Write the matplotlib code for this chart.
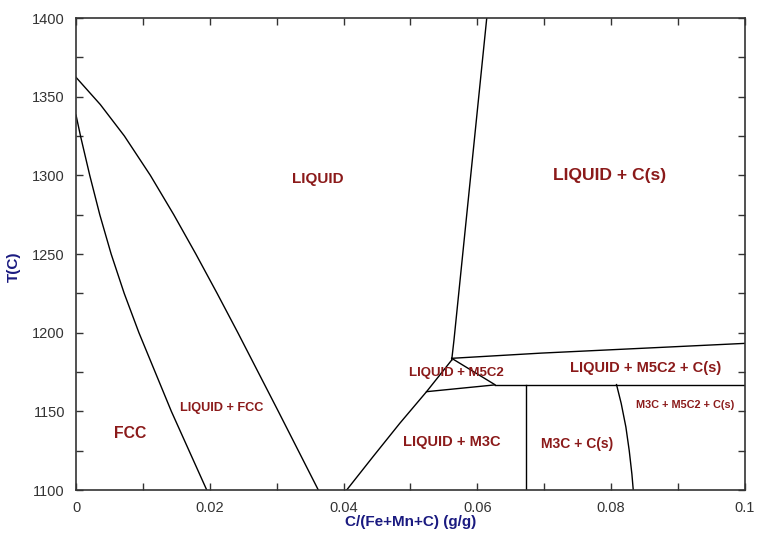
import numpy as np
import matplotlib
matplotlib.use("Agg")
import matplotlib.pyplot as plt
from matplotlib.ticker import MultipleLocator

plt.rcParams['font.family'] = ['Liberation Sans', 'DejaVu Sans']

# Phase boundaries (C mass fraction, T in C)
##########################################
liq_fcc_x = [0.0, 0.00363, 0.00723, 0.01111, 0.01461, 0.01791, 0.02109, 0.02419, 0.03024, 0.03622]
liq_fcc_t = [1362.3, 1345.0, 1325.0, 1300.0, 1275.0, 1250.0, 1225.0, 1200.0, 1150.0, 1100.0]

sol_fcc_x = [0.0, 0.00067, 0.00205, 0.00355, 0.00525, 0.0072, 0.0094, 0.01425, 0.01954]
sol_fcc_t = [1338.3, 1325.0, 1300.0, 1275.0, 1250.0, 1225.0, 1200.0, 1150.0, 1100.0]

liq_m3c_x = [0.04046, 0.0444, 0.0484, 0.0524, 0.05616]
liq_m3c_t = [1100.0, 1121.2, 1142.4, 1162.5, 1182.6]

liq_gr_x = [0.05616, 0.0565, 0.0614]
liq_gr_t = [1182.6, 1195.3, 1400.0]

m5c2_gr_x = [0.05616, 0.0695, 0.1]
m5c2_gr_t = [1183.7, 1187.0, 1193.2]

liq_m5c2_x = [0.05616, 0.0626]
liq_m5c2_t = [1183.7, 1167.0]

m3c_m5c2_x = [0.0524, 0.0626]
m3c_m5c2_t = [1162.5, 1166.8]

eut_x = [0.0626, 0.1]
eut_t = [1167.0, 1167.0]

m3c_gr_x = [0.0673, 0.0673]
m3c_gr_t = [1167.0, 1100.0]

m3c_m5_x = [0.0808, 0.0815, 0.0822, 0.0827, 0.0831, 0.0833]
m3c_m5_t = [1167.0, 1155.0, 1140.0, 1125.0, 1110.0, 1100.0]

# Region labels
##########################################
label_text = ["LIQUID", "LIQUID + C(s)", "LIQUID + M5C2", "LIQUID + M5C2 + C(s)",
              "M3C + M5C2 + C(s)", "LIQUID + FCC", "FCC", "LIQUID + M3C", "M3C + C(s)"]
label_x = [0.0362, 0.0797, 0.0568, 0.0851, 0.0910, 0.0218, 0.0081, 0.0562, 0.0749]
label_t = [1297.7, 1299.6, 1174.5, 1177.3, 1154.0, 1152.0, 1136.0, 1130.5, 1129.0]
label_size = [11, 12.6, 9.5, 10.5, 7.8, 9.2, 11.3, 10.5, 10]

fig = plt.figure(figsize=(7.58, 5.39), dpi=100)
ax = fig.add_axes([0.1003, 0.0909, 0.8825, 0.8757])

curves = [(liq_fcc_x, liq_fcc_t), (sol_fcc_x, sol_fcc_t), (liq_m3c_x, liq_m3c_t),
          (liq_gr_x, liq_gr_t), (m5c2_gr_x, m5c2_gr_t), (liq_m5c2_x, liq_m5c2_t),
          (m3c_m5c2_x, m3c_m5c2_t), (eut_x, eut_t), (m3c_gr_x, m3c_gr_t),
          (m3c_m5_x, m3c_m5_t)]
for cx, ct in curves:
    ax.plot(cx, ct, color='black', lw=1.0, solid_joinstyle='round')

for txt, lx, lt, fs in zip(label_text, label_x, label_t, label_size):
    ax.text(lx, lt, txt, color='#8b1a1a', fontsize=fs, fontweight='bold',
            ha='center', va='center')

ax.set_xlim(0, 0.1)
ax.set_ylim(1100, 1400)
ax.xaxis.set_minor_locator(MultipleLocator(0.01))
ax.yaxis.set_major_locator(MultipleLocator(50))
ax.yaxis.set_minor_locator(MultipleLocator(25))
ax.set_xticks([0, 0.02, 0.04, 0.06, 0.08, 0.1])
ax.set_xticklabels(['0', '0.02', '0.04', '0.06', '0.08', '0.1'])
ax.tick_params(which='both', direction='in', top=True, right=True,
               labelsize=10.5, colors='#333333', length=5, width=1)
ax.tick_params(which='major', pad=8)
for s in ax.spines.values():
    s.set_color('#333333')
    s.set_linewidth(1.2)

ax.set_xlabel('C/(Fe+Mn+C) (g/g)', color='#1a1a80', fontweight='bold', fontsize=11)
ax.set_ylabel('T(C)', color='#1a1a80', fontweight='bold', fontsize=11)
ax.xaxis.set_label_coords(0.5, -0.052)
ax.yaxis.set_label_coords(-0.082, 0.472)

fig.savefig('out.png', dpi=100)
